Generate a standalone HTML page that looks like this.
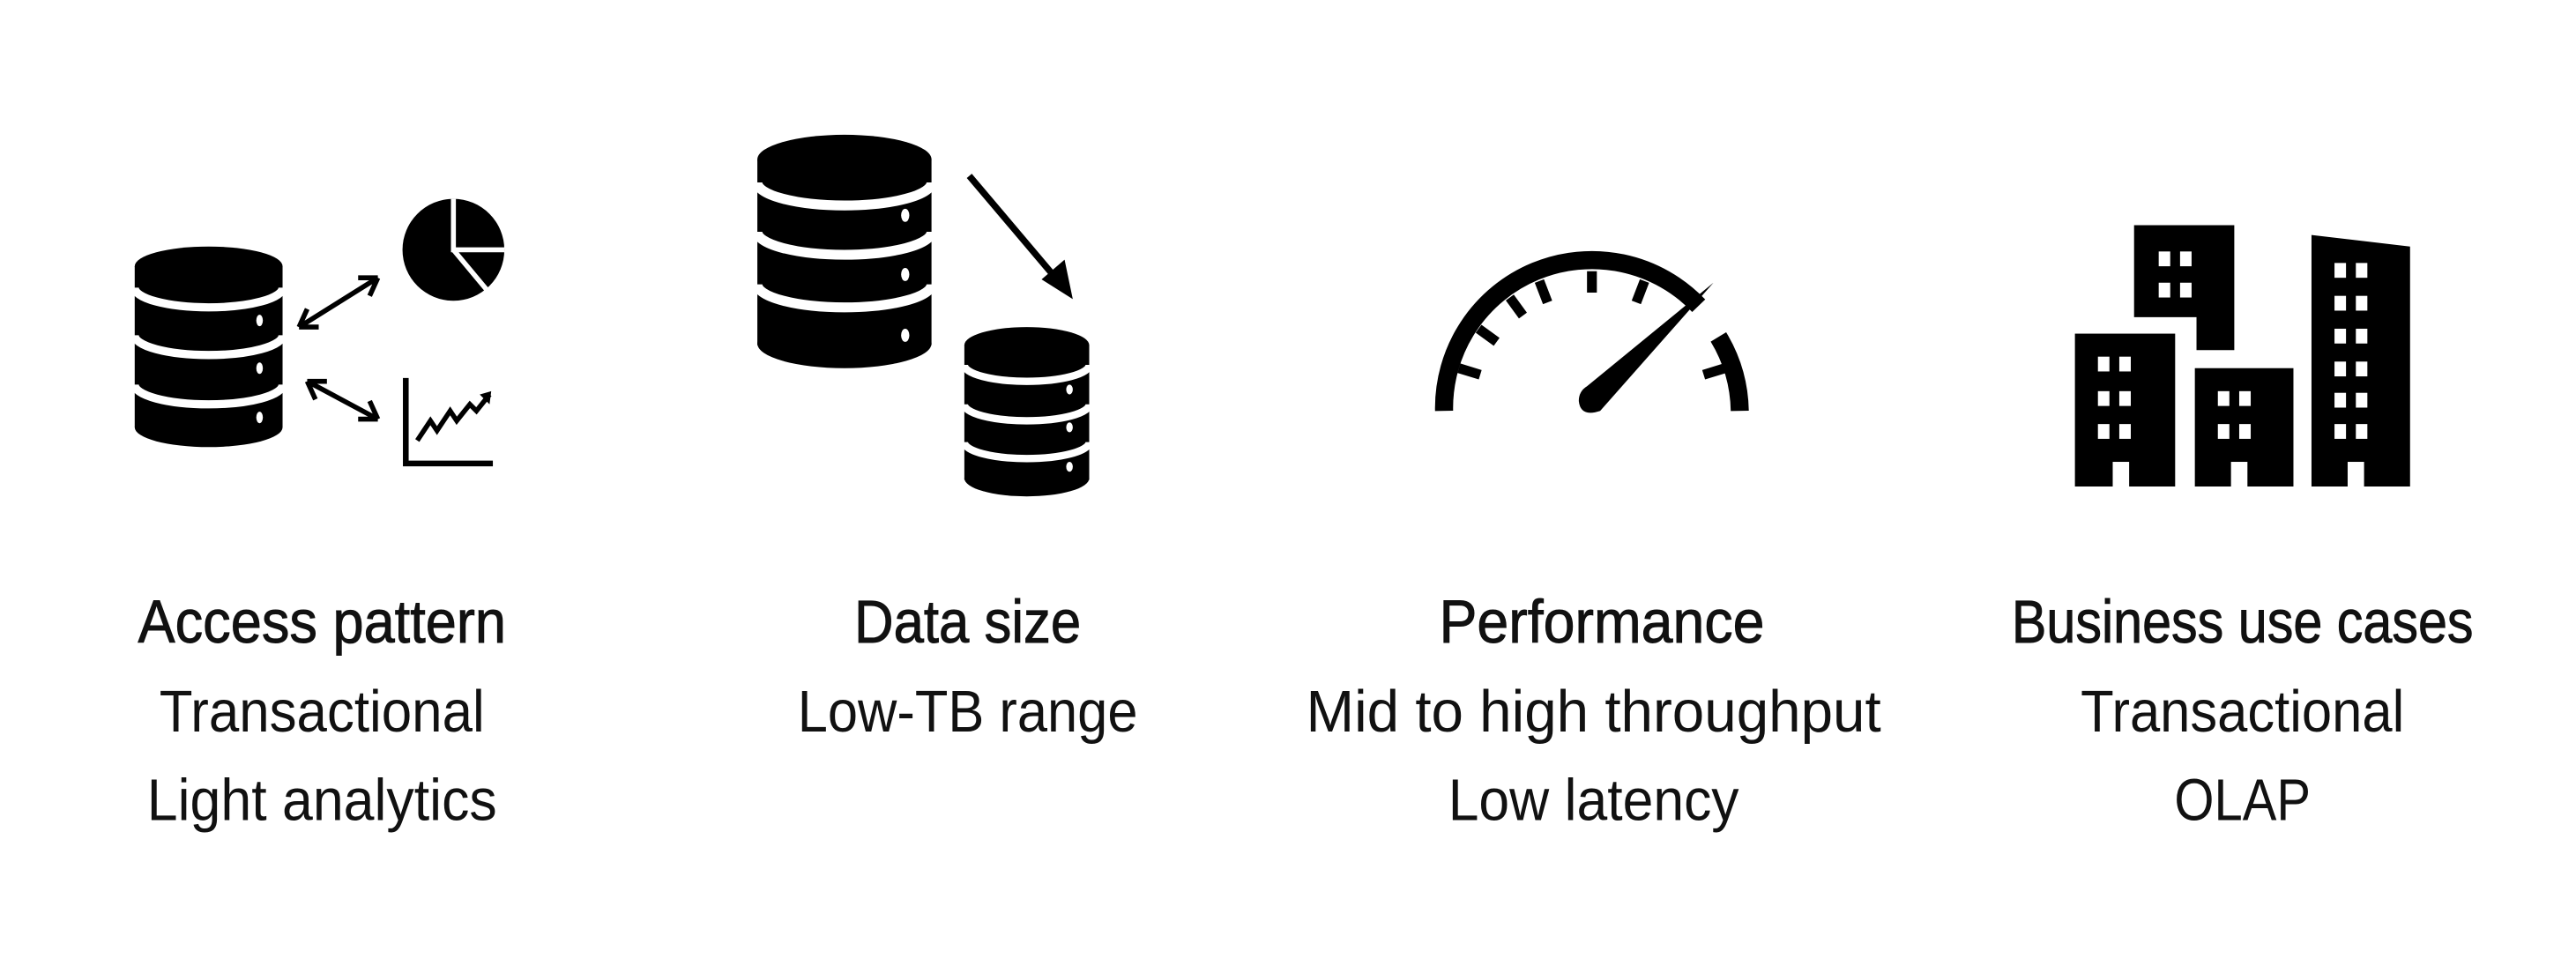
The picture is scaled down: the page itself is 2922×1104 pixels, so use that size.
<!DOCTYPE html>
<html><head><meta charset="utf-8"><style>
html,body{margin:0;padding:0;background:#fff;width:2922px;height:1104px;overflow:hidden}
svg{display:block}
text{font-family:"Liberation Sans",sans-serif;fill:#111;text-anchor:middle}
.t{font-size:37px;stroke:#111;stroke-width:0.5}
.b{font-size:36px}
</style></head><body>
<svg width="2922" height="1104" viewBox="0 0 1568 592" preserveAspectRatio="none" xmlns="http://www.w3.org/2000/svg">

<!-- Icon 1: database with analytics -->
<g>
 <g>
  <rect x="82" y="162" width="90" height="98" fill="#000"/>
  <ellipse cx="127" cy="162" rx="45" ry="12" fill="#000"/>
  <ellipse cx="127" cy="260" rx="45" ry="12" fill="#000"/>
  <path d="M82 175 A45 12 0 0 0 172 175 M82 204 A45 12 0 0 0 172 204 M82 234 A45 12 0 0 0 172 234" stroke="#fff" stroke-width="5" fill="none"/>
  <ellipse cx="158" cy="195" rx="2" ry="3.5" fill="#fff"/>
  <ellipse cx="158" cy="224" rx="2" ry="3.5" fill="#fff"/>
  <ellipse cx="158" cy="254" rx="2" ry="3.5" fill="#fff"/>
 </g>
 <g>
  <circle cx="276" cy="152" r="31" fill="#000"/>
  <path d="M276 121 V152 H307 M276 152 L296 176" stroke="#fff" stroke-width="3" fill="none"/>
 </g>
 <g>
  <path d="M247 230 V282 H300" stroke="#000" stroke-width="3.5" fill="none"/>
  <path d="M254 268 L262 256 L266 262 L274 250 L278 256 L286 246 L290 250 L298 240" stroke="#000" stroke-width="3" fill="none"/>
  <path d="M292 240 L299 238 L298 246 Z" fill="#000"/>
 </g>
 <g stroke="#000" stroke-width="3" fill="none">
  <path d="M182 199 L230 169 M182 199 L187 188 M182 199 L194 199 M230 169 L218 169 M230 169 L225 180"/>
  <path d="M187 232 L230 255 M187 232 L199 232 M187 232 L192 243 M230 255 L218 255 M230 255 L225 244"/>
 </g>
</g>

<!-- Icon 2: big db -> small db -->
<g>
 <g>
  <rect x="461" y="97" width="106" height="113" fill="#000"/>
  <ellipse cx="514" cy="97" rx="53" ry="15" fill="#000"/>
  <ellipse cx="514" cy="209" rx="53" ry="15" fill="#000"/>
  <path d="M461 111 A53 14 0 0 0 567 111 M461 141 A53 14 0 0 0 567 141 M461 173 A53 14 0 0 0 567 173" stroke="#fff" stroke-width="6" fill="none"/>
  <ellipse cx="551" cy="131" rx="2.5" ry="4" fill="#fff"/>
  <ellipse cx="551" cy="167" rx="2.5" ry="4" fill="#fff"/>
  <ellipse cx="551" cy="204" rx="2.5" ry="4" fill="#fff"/>
 </g>
 <path d="M590 107 L645 172" stroke="#000" stroke-width="4" fill="none"/>
 <path d="M653 182 L634 170 L648 158 Z" fill="#000"/>
 <g>
  <rect x="587" y="210" width="76" height="82" fill="#000"/>
  <ellipse cx="625" cy="210" rx="38" ry="11" fill="#000"/>
  <ellipse cx="625" cy="291" rx="38" ry="11" fill="#000"/>
  <path d="M587 222 A38 10 0 0 0 663 222 M587 246 A38 10 0 0 0 663 246 M587 269 A38 10 0 0 0 663 269" stroke="#fff" stroke-width="4.5" fill="none"/>
  <ellipse cx="651" cy="237" rx="2" ry="3" fill="#fff"/>
  <ellipse cx="651" cy="260" rx="2" ry="3" fill="#fff"/>
  <ellipse cx="651" cy="284" rx="2" ry="3" fill="#fff"/>
 </g>
</g>

<!-- Icon 3: gauge -->
<g>
 <path d="M879 250 A90 90 0 0 1 1034 186" stroke="#000" stroke-width="11" fill="none"/>
 <path d="M1046 205 A90 90 0 0 1 1059 250" stroke="#000" stroke-width="11" fill="none"/>
 <g stroke="#000" stroke-width="6">
  <line x1="888" y1="224" x2="901" y2="228"/>
  <line x1="900" y1="200" x2="911" y2="208"/>
  <line x1="919" y1="181" x2="927" y2="192"/>
  <line x1="937" y1="171" x2="942" y2="184"/>
  <line x1="969" y1="165" x2="969" y2="178"/>
  <line x1="1001" y1="171" x2="996" y2="184"/>
  <line x1="1050" y1="224" x2="1037" y2="228"/>
 </g>
 <path d="M1043 172 L974 250 Q962 254 961 244 Q961 238 966 235 Z" fill="#000"/>
</g>

<!-- Icon 4: buildings -->
<g>
 <path d="M1299 137 H1360 V213 H1337 V193 H1299 Z" fill="#000"/>
 <rect x="1263" y="203" width="61" height="93" fill="#000"/>
 <rect x="1336" y="224" width="60" height="72" fill="#000"/>
 <path d="M1407 143 L1467 150 V296 H1407 Z" fill="#000"/>
 <g fill="#fff">
  <rect x="1314" y="153" width="7" height="9"/><rect x="1327" y="153" width="7" height="9"/>
  <rect x="1314" y="172" width="7" height="9"/><rect x="1327" y="172" width="7" height="9"/>
  <rect x="1277" y="217" width="7" height="9"/><rect x="1290" y="217" width="7" height="9"/>
  <rect x="1277" y="238" width="7" height="9"/><rect x="1290" y="238" width="7" height="9"/>
  <rect x="1277" y="258" width="7" height="9"/><rect x="1290" y="258" width="7" height="9"/>
  <rect x="1350" y="238" width="7" height="9"/><rect x="1363" y="238" width="7" height="9"/>
  <rect x="1350" y="258" width="7" height="9"/><rect x="1363" y="258" width="7" height="9"/>
  <rect x="1421" y="160" width="7" height="9"/><rect x="1434" y="160" width="7" height="9"/>
  <rect x="1421" y="180" width="7" height="9"/><rect x="1434" y="180" width="7" height="9"/>
  <rect x="1421" y="200" width="7" height="9"/><rect x="1434" y="200" width="7" height="9"/>
  <rect x="1421" y="220" width="7" height="9"/><rect x="1434" y="220" width="7" height="9"/>
  <rect x="1421" y="239" width="7" height="9"/><rect x="1434" y="239" width="7" height="9"/>
  <rect x="1421" y="258" width="7" height="9"/><rect x="1434" y="258" width="7" height="9"/>
  <rect x="1286" y="281" width="10" height="16"/>
  <rect x="1358" y="281" width="10" height="16"/>
  <rect x="1429" y="281" width="10" height="16"/>
 </g>
</g>

<!-- Text -->
<text class="t" x="196" y="391" textLength="224" lengthAdjust="spacingAndGlyphs">Access pattern</text>
<text class="b" x="196" y="445" textLength="198" lengthAdjust="spacingAndGlyphs">Transactional</text>
<text class="b" x="196" y="499" textLength="213" lengthAdjust="spacingAndGlyphs">Light analytics</text>

<text class="t" x="589" y="391" textLength="138" lengthAdjust="spacingAndGlyphs">Data size</text>
<text class="b" x="589" y="445" textLength="207" lengthAdjust="spacingAndGlyphs">Low-TB range</text>

<text class="t" x="975" y="391" textLength="198" lengthAdjust="spacingAndGlyphs">Performance</text>
<text class="b" x="970" y="445" textLength="350" lengthAdjust="spacingAndGlyphs">Mid to high throughput</text>
<text class="b" x="970" y="499" textLength="177" lengthAdjust="spacingAndGlyphs">Low latency</text>

<text class="t" x="1365" y="391" textLength="281" lengthAdjust="spacingAndGlyphs">Business use cases</text>
<text class="b" x="1365" y="445" textLength="197" lengthAdjust="spacingAndGlyphs">Transactional</text>
<text class="b" x="1365" y="499" textLength="83" lengthAdjust="spacingAndGlyphs">OLAP</text>
</svg>
</body></html>
